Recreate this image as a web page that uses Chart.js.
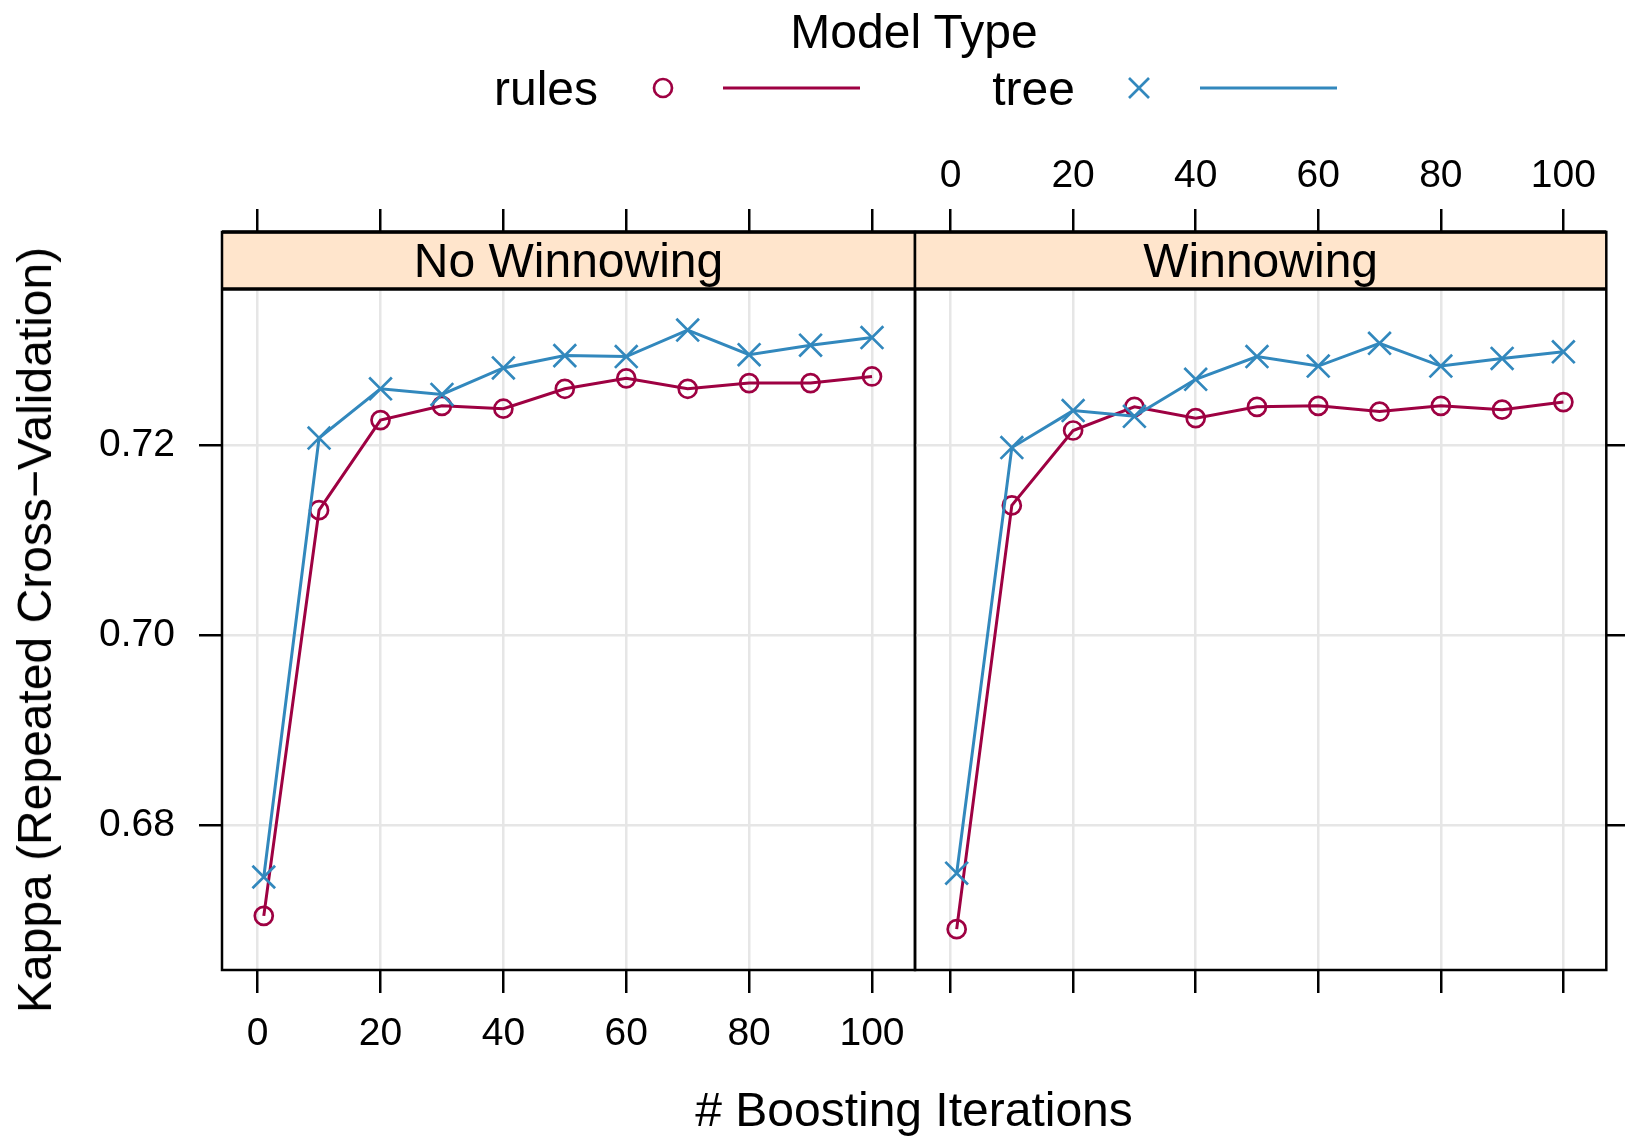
<!DOCTYPE html>
<html>
<head>
<meta charset="utf-8">
<script src="https://cdn.jsdelivr.net/npm/chart.js@4.4.1/dist/chart.umd.min.js"></script>
<style>
  html, body { margin: 0; padding: 0; background: #fff; }
  body {
    width: 1625px; height: 1137px; position: relative; overflow: hidden;
    font-family: "Liberation Sans", Arial, Helvetica, sans-serif; color: #000;
  }
  canvas { position: absolute; left: 0; top: 0; }
  .txt { position: absolute; font-size: 48px; line-height: 48px; white-space: nowrap; }
  svg { position: absolute; left: 0; top: 0; }
</style>
</head>
<body>
<canvas id="left" width="1625" height="1137"></canvas>
<canvas id="right" width="1625" height="1137"></canvas>

<!-- legend (lattice key on top) -->
<div class="txt" style="left:914px; top:8px; transform:translateX(-50%);">Model Type</div>
<div class="txt" style="right:1027px; top:65px;">rules</div>
<div class="txt" style="right:550px; top:65px;">tree</div>
<svg width="1625" height="130">
  <circle cx="663" cy="88" r="9" fill="none" stroke="#9E0142" stroke-width="2.7"/>
  <line x1="723" y1="88" x2="860" y2="88" stroke="#9E0142" stroke-width="3"/>
  <line x1="1129" y1="78" x2="1149" y2="98" stroke="#3288BD" stroke-width="2.7"/>
  <line x1="1129" y1="98" x2="1149" y2="78" stroke="#3288BD" stroke-width="2.7"/>
  <line x1="1200" y1="88" x2="1337" y2="88" stroke="#3288BD" stroke-width="3"/>
</svg>

<!-- axis titles -->
<div class="txt" style="left:914px; top:1086px; transform:translateX(-50%);"># Boosting Iterations</div>
<div class="txt" style="left:35px; top:630px; transform:translate(-50%,-50%) rotate(-90deg);">Kappa (Repeated Cross&minus;Validation)</div>

<script>
// boosting iterations on the x axis
const iterations = [1, 10, 20, 30, 40, 50, 60, 70, 80, 90, 100];
const panels = ['No Winnowing', 'Winnowing'];

// Kappa values
const rulesNoWinnow = [0.6704, 0.7132, 0.7227, 0.7242, 0.7239, 0.7260, 0.7271, 0.7260, 0.7266, 0.7266, 0.7273];
const treeNoWinnow  = [0.6745, 0.7208, 0.7260, 0.7254, 0.7282, 0.7295, 0.7294, 0.7322, 0.7296, 0.7306, 0.7314];
const rulesWinnow   = [0.6690, 0.7137, 0.7216, 0.7241, 0.7229, 0.7241, 0.7242, 0.7236, 0.7242, 0.7238, 0.7246];
const treeWinnow    = [0.6749, 0.7198, 0.7237, 0.7231, 0.7270, 0.7294, 0.7284, 0.7308, 0.7284, 0.7292, 0.7299];

// tick labels
const xTicks = [0, 20, 40, 60, 80, 100];
const xTickLabels = ['0', '20', '40', '60', '80', '100'];
const yTicks = [0.68, 0.70, 0.72];
const yTickLabels = ['0.68', '0.70', '0.72'];

const xMin = -5.8, xMax = 107;
const yMin = 0.66469, yMax = 0.74254;   // top of range sits under the strip

const rulesColor = '#9E0142';
const treeColor = '#3288BD';
const gridColor = '#E6E6E6';
const tickFont = { family: '"Liberation Sans", Arial, Helvetica, sans-serif', size: 39 };
const stripH = 57;

// strip + panel frame, lattice style
const panelPlugin = {
  id: 'panel',
  beforeDatasetsDraw(chart, args, opts) {
    const { ctx, chartArea: a } = chart;
    ctx.save();
    ctx.fillStyle = '#FFE5CC';
    ctx.fillRect(a.left, a.top, a.right - a.left, stripH);
    ctx.fillStyle = '#000';
    ctx.font = '48px "Liberation Sans", Arial, sans-serif';
    ctx.textAlign = 'center';
    ctx.textBaseline = 'middle';
    ctx.fillText(opts.label, (a.left + a.right) / 2, a.top + stripH / 2 + 3);
    ctx.restore();
  },
  afterDatasetsDraw(chart) {
    const { ctx, chartArea: a } = chart;
    ctx.save();
    ctx.strokeStyle = '#000';
    ctx.lineWidth = 2.5;
    ctx.strokeRect(a.left, a.top, a.right - a.left, a.bottom - a.top);
    ctx.lineWidth = 3.5;
    ctx.beginPath();
    ctx.moveTo(a.left, a.top + stripH);
    ctx.lineTo(a.right, a.top + stripH);
    ctx.moveTo(a.left, a.top);
    ctx.lineTo(a.right, a.top);
    ctx.stroke();
    ctx.restore();
  }
};

function axisX(position, showLabels) {
  return {
    type: 'linear',
    position: position,
    min: xMin,
    max: xMax,
    afterBuildTicks: s => { s.ticks = xTicks.map(v => ({ value: v })); },
    afterFit: s => { s.height = position === 'top' ? 232 : 167; },
    grid: {
      drawOnChartArea: position === 'bottom',
      color: gridColor, lineWidth: 2.5,
      tickColor: '#000', tickWidth: 2.5, tickLength: 23
    },
    border: { display: false },
    ticks: {
      display: showLabels, font: tickFont, color: '#000',
      padding: position === 'top' ? 9 : 18,
      maxRotation: 0, autoSkip: false,
      callback: (v, i) => xTickLabels[i]
    }
  };
}

function axisY(position, showLabels) {
  return {
    type: 'linear',
    position: position,
    min: yMin,
    max: yMax,
    afterBuildTicks: s => { s.ticks = yTicks.map(v => ({ value: v })); },
    afterFit: s => { s.width = position === 'left' ? 222 : 16; },
    grid: {
      color: gridColor, lineWidth: 2.5,
      tickColor: '#000', tickWidth: 2.5, tickLength: 23
    },
    border: { display: false },
    ticks: {
      display: showLabels, font: tickFont, color: '#000', padding: 24,
      callback: (v, i) => yTickLabels[i]
    }
  };
}

function series(label, values, color, style, radius, order) {
  return {
    label: label,
    data: iterations.map((x, i) => ({ x: x, y: values[i] })),
    xAxisID: 'x',
    yAxisID: 'y',
    borderColor: color,
    borderWidth: 3,
    pointStyle: style,
    pointRadius: radius,
    pointBorderWidth: 2.7,
    pointBorderColor: color,
    pointBackgroundColor: 'rgba(0,0,0,0)',
    fill: false,
    tension: 0,
    order: order
  };
}

function makePanel(id, label, rules, tree, isLeft) {
  const ctx = document.getElementById(id).getContext('2d');
  new Chart(ctx, {
    type: 'line',
    data: {
      datasets: [
        series('rules', rules, rulesColor, 'circle', 9, 1),
        series('tree', tree, treeColor, 'crossRot', 16, 0)
      ]
    },
    options: {
      responsive: false,
      devicePixelRatio: 1,
      animation: false,
      events: [],
      layout: {
        padding: isLeft ? { left: 0, right: 710, top: 0, bottom: 0 }
                        : { left: 915, right: 0, top: 0, bottom: 0 }
      },
      scales: {
        x: axisX('bottom', isLeft),
        x2: axisX('top', !isLeft),
        y: axisY(isLeft ? 'left' : 'right', isLeft)
      },
      plugins: {
        legend: { display: false },
        tooltip: { enabled: false },
        panel: { label: label }
      }
    },
    plugins: [panelPlugin]
  });
}

makePanel('left', panels[0], rulesNoWinnow, treeNoWinnow, true);
makePanel('right', panels[1], rulesWinnow, treeWinnow, false);
</script>
</body>
</html>
